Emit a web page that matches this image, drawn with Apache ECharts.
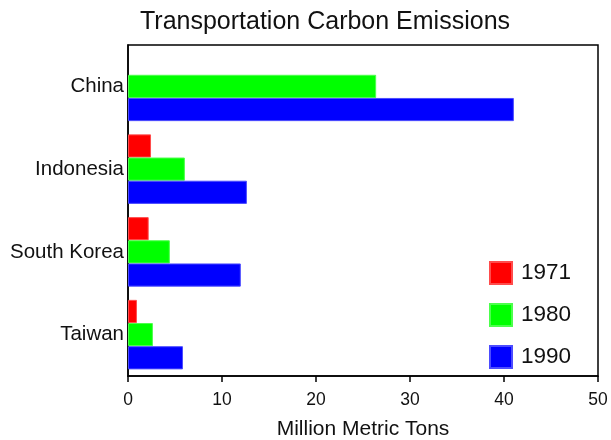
<!DOCTYPE html>
<html><head><meta charset="utf-8">
<script src="https://cdn.jsdelivr.net/npm/echarts@6/dist/echarts.min.js"></script>
<style>html,body{margin:0;padding:0;background:#fff}#c{width:611px;height:440px}</style>
</head><body><div id="c"></div>
<script>
const categories = ['China', 'Indonesia', 'South Korea', 'Taiwan'];
const seriesNames = ['1971', '1980', '1990'];
const v1971 = [null, 2.45, 2.2, 0.95];
const v1980 = [26.4, 6.05, 4.45, 2.65];
const v1990 = [41.05, 12.65, 12.0, 5.85];
const colors = ['#ff0000', '#00ff00', '#0000ff'];
const xTicks = { min: 0, max: 50, interval: 10 };

const font = 'Liberation Sans, Arial, Helvetica, sans-serif';
const chart = echarts.init(document.getElementById('c'));
const vals = [v1971, v1980, v1990];
chart.setOption({
  animation: false,
  title: { text: 'Transportation Carbon Emissions', left: 320, textAlign: 'center', top: 5,
    textStyle: { fontFamily: font, fontSize: 25, fontWeight: 'normal', color: '#111' } },
  legend: { orient: 'vertical', left: 484, top: 256, itemWidth: 22, itemHeight: 22, itemGap: 18,
    icon: 'rect', textStyle: { fontFamily: font, fontSize: 22.5, lineHeight: 22, color: '#111', padding: [0,0,0,4] },
    data: seriesNames },
  grid: { left: 128, right: 13, top: 45, bottom: 64, show: true, borderColor: '#000', borderWidth: 1.5,
    containLabel: false, outerBoundsMode: 'none' },
  xAxis: { type: 'value', min: xTicks.min, max: xTicks.max, interval: xTicks.interval,
    name: 'Million Metric Tons', nameLocation: 'middle', nameGap: 43,
    nameTextStyle: { fontFamily: font, fontSize: 21, color: '#111' },
    axisLine: { show: true, lineStyle: { color: '#000', width: 1.5 } },
    axisTick: { show: true, length: 6, lineStyle: { color: '#000', width: 1.5 } },
    splitLine: { show: false },
    axisLabel: { fontFamily: font, fontSize: 17.5, color: '#111', margin: 15 } },
  yAxis: { type: 'category', data: categories, inverse: true,
    axisLine: { show: true, lineStyle: { color: '#000', width: 1.5 } },
    axisTick: { show: false },
    axisLabel: { fontFamily: font, fontSize: 20.5, color: '#111', margin: 4 } },
  series: seriesNames.map((n, i) => ({
    name: n, type: 'bar', data: vals[i], barGap: '0%', barCategoryGap: '16%',
    itemStyle: { color: colors[i], borderColor: echarts.color.lift(colors[i], 0.3), borderWidth: 1 }
  }))
});
</script></body></html>
